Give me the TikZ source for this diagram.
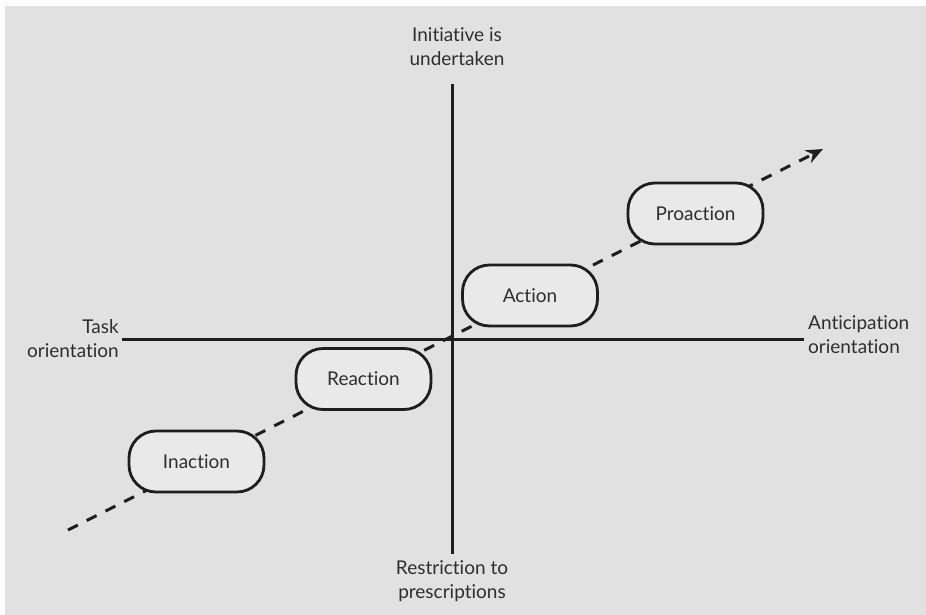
\documentclass[tikz,border=0pt]{standalone}
\usepackage{fontspec}
\setmainfont{Lato}[Ligatures=NoCommon]
\usetikzlibrary{arrows.meta}
\definecolor{panel}{HTML}{E1E1E1}
\definecolor{boxfill}{HTML}{E9E9E9}
\definecolor{ink}{HTML}{1E1E1E}
\definecolor{txt}{HTML}{2E2E2E}
\begin{document}
\begin{tikzpicture}[x=1pt,y=-1pt,
  axis/.style={draw=ink,line width=3pt},
  stage/.style={draw=ink,fill=boxfill,line width=2.8pt,rounded corners=27pt,
    minimum width=135pt,minimum height=61pt,inner sep=0pt,
    font=\fontsize{19}{25}\selectfont,text=txt},
  lbl/.style={font=\fontsize{19}{24}\selectfont,text=txt,inner sep=0pt},
  trend/.style={draw=ink,line width=3pt,dash pattern=on 11pt off 10pt,
    -{Stealth[length=17pt,width=14pt]}}]
  % page and panel
  \fill[white] (0,0) rectangle (926,615);
  \fill[panel] (5,6) rectangle (926,615);
  \useasboundingbox (0,0) rectangle (926,615);

  % axes
  \coordinate (ytop) at (452,84);
  \coordinate (ybot) at (452,554);
  \coordinate (xl) at (122,339);
  \coordinate (xr) at (804,339);
  \draw[axis] (ytop) -- (ybot);
  \draw[axis] (xl) -- (xr);

  % axis labels (base anchor = baseline of the last line)
  \node[lbl,align=center,anchor=base] (up) at (457,66) {Initiative is\\undertaken};
  \node[lbl,align=center,anchor=base] (down) at (452,598) {Restriction to\\prescriptions};
  \node[lbl,align=right,anchor=base east] (left) at (119,357) {Task\\orientation};
  \node[lbl,align=left,anchor=base west] (right) at (808,353) {Anticipation\\orientation};

  % dashed trend line
  \coordinate (tstart) at (68,530);
  \coordinate (tend) at (823,149);
  \draw[trend] (tstart) -- (tend);

  % stages
  \node[stage] (inaction) at (196.5,461.5) {Inaction};
  \node[stage] (reaction) at (363.5,379) {Reaction};
  \node[stage] (action) at (530,295.5) {Action};
  \node[stage] (proaction) at (695.5,213.5) {Proaction};
\end{tikzpicture}
\end{document}
